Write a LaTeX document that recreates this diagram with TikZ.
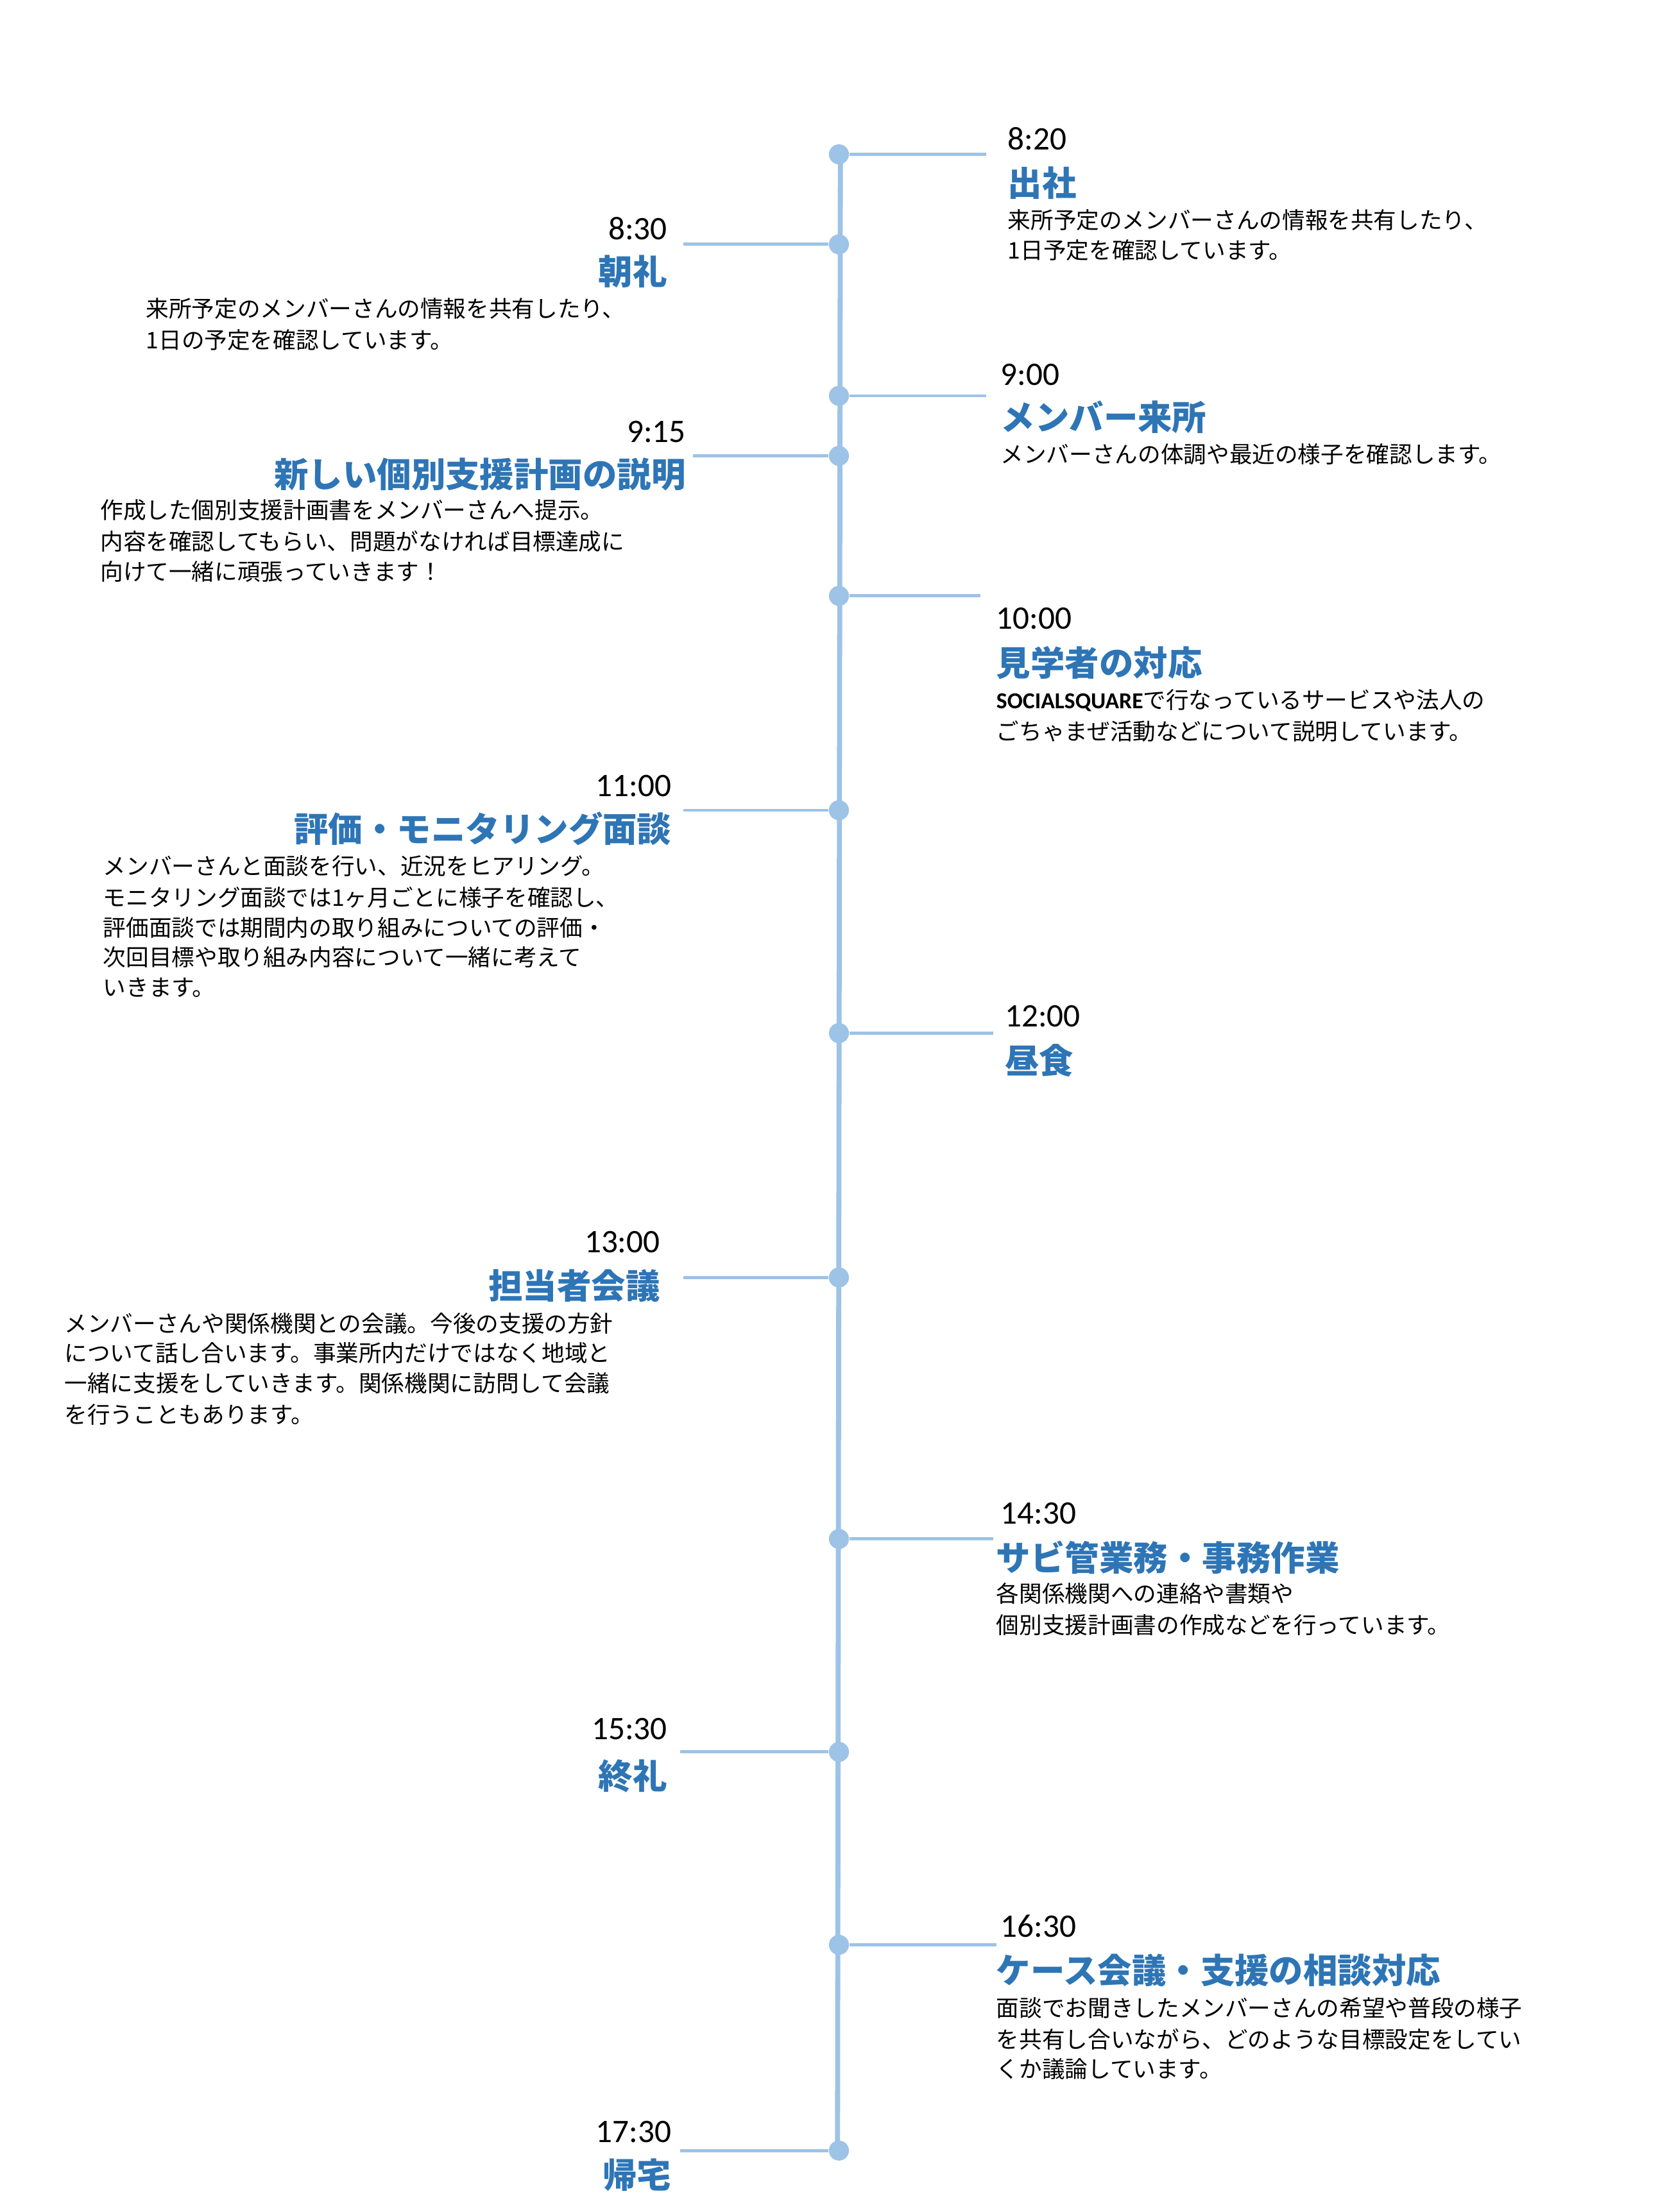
\documentclass[tikz,border=0pt]{standalone}
\usepackage{fontspec}
\newfontfamily\jp{Noto Sans CJK JP}
\newfontfamily\tm{Carlito}
\definecolor{lineblue}{HTML}{9DC3E6}
\definecolor{titleblue}{HTML}{2E75B6}
\begin{document}
\begin{tikzpicture}[x=1pt,y=-1pt,
  conn/.style={lineblue,line width=2.2pt},
  dot/.style={circle,fill=lineblue,inner sep=0pt,minimum size=14pt},
  tim/.style={inner sep=0pt,font=\tm\fontsize{23}{23}\selectfont,text=black},
  ttl/.style={inner sep=0pt,font=\jp\fontsize{24}{24}\selectfont\bfseries,text=titleblue},
  dsc/.style={inner sep=0pt,anchor=west,font=\jp\fontsize{16}{16}\selectfont,text=black}]
\useasboundingbox[fill=white] (0,0) rectangle (1160,1548);
\coordinate (top) at (588,108);
\coordinate (bot) at (586,1505);
\draw[lineblue,line width=3.5pt] (top) -- (bot);
\foreach \n/\y/\e in {a/108/690,c/277/690,e/417/686,g/723/695,i/1077/695,k/1361/697}{
  \node[dot] (d\n) at (587,\y) {};
  \coordinate (e\n) at (\e,\y);
  \draw[conn] (d\n) -- (e\n);
}
\foreach \n/\y/\e in {b/171/478,d/319/485,f/567/478,h/894/478,j/1226/476,l/1505/476}{
  \node[dot] (d\n) at (587,\y) {};
  \coordinate (e\n) at (\e,\y);
  \draw[conn] (d\n) -- (e\n);
}
% 8:20
\node[tim,anchor=west] (ta) at (705,97) {8:20};
\node[ttl,anchor=west] (sa) at (705,128) {出社};
\node[dsc] (xa1) at (705,154) {来所予定のメンバーさんの情報を共有したり、};
\node[dsc] (xa2) at (705,175) {1日予定を確認しています。};
% 8:30
\node[tim,anchor=east] (tb) at (467,160) {8:30};
\node[ttl,anchor=east] (sb) at (467,190) {朝礼};
\node[dsc] (xb1) at (102,216) {来所予定のメンバーさんの情報を共有したり、};
\node[dsc] (xb2) at (102,238) {1日の予定を確認しています。};
% 9:00
\node[tim,anchor=west] (tc) at (700,262) {9:00};
\node[ttl,anchor=west] (sc) at (700,292) {メンバー来所};
\node[dsc] (xc1) at (700,318) {メンバーさんの体調や最近の様子を確認します。};
% 9:15
\node[tim,anchor=east] (td) at (480,302) {9:15};
\node[ttl,anchor=east] (sd) at (480,332) {新しい個別支援計画の説明};
\node[dsc] (xd1) at (70,357) {作成した個別支援計画書をメンバーさんへ提示。};
\node[dsc] (xd2) at (70,379) {内容を確認してもらい、問題がなければ目標達成に};
\node[dsc] (xd3) at (70,400) {向けて一緒に頑張っていきます！};
% 10:00
\node[tim,anchor=west] (te) at (697,433) {10:00};
\node[ttl,anchor=west] (se) at (697,464) {見学者の対応};
\node[dsc] (xe1) at (697,490) {{\tm\bfseries SOCIALSQUARE}で行なっているサービスや法人の};
\node[dsc] (xe2) at (697,512) {ごちゃまぜ活動などについて説明しています。};
% 11:00
\node[tim,anchor=east] (tf) at (470,550) {11:00};
\node[ttl,anchor=east] (sf) at (470,580) {評価・モニタリング面談};
\node[dsc] (xf1) at (72,606) {メンバーさんと面談を行い、近況をヒアリング。};
\node[dsc] (xf2) at (72,628) {モニタリング面談では1ヶ月ごとに様子を確認し、};
\node[dsc] (xf3) at (72,649) {評価面談では期間内の取り組みについての評価・};
\node[dsc] (xf4) at (72,670) {次回目標や取り組み内容について一緒に考えて};
\node[dsc] (xf5) at (72,691) {いきます。};
% 12:00
\node[tim,anchor=west] (tg) at (703,711) {12:00};
\node[ttl,anchor=west] (sg) at (703,742) {昼食};
% 13:00
\node[tim,anchor=east] (th) at (462,869) {13:00};
\node[ttl,anchor=east] (sh) at (462,900) {担当者会議};
\node[dsc] (xh1) at (45,926) {メンバーさんや関係機関との会議。今後の支援の方針};
\node[dsc] (xh2) at (45,947) {について話し合います。事業所内だけではなく地域と};
\node[dsc] (xh3) at (45,968) {一緒に支援をしていきます。関係機関に訪問して会議};
\node[dsc] (xh4) at (45,990) {を行うこともあります。};
% 14:30
\node[tim,anchor=west] (ti) at (700,1059) {14:30};
\node[ttl,anchor=west] (si) at (697,1090) {サビ管業務・事務作業};
\node[dsc] (xi1) at (697,1115) {各関係機関への連絡や書類や};
\node[dsc] (xi2) at (697,1137) {個別支援計画書の作成などを行っています。};
% 15:30
\node[tim,anchor=east] (tj) at (467,1210) {15:30};
\node[ttl,anchor=east] (sj) at (467,1243) {終礼};
% 16:30
\node[tim,anchor=west] (tk) at (700,1348) {16:30};
\node[ttl,anchor=west] (sk) at (697,1379) {ケース会議・支援の相談対応};
\node[dsc] (xk1) at (697,1405) {面談でお聞きしたメンバーさんの希望や普段の様子};
\node[dsc] (xk2) at (697,1427) {を共有し合いながら、どのような目標設定をしてい};
\node[dsc] (xk3) at (697,1448) {くか議論しています。};
% 17:30
\node[tim,anchor=east] (tl) at (470,1492) {17:30};
\node[ttl,anchor=east] (sl) at (470,1522) {帰宅};
\end{tikzpicture}
\end{document}
